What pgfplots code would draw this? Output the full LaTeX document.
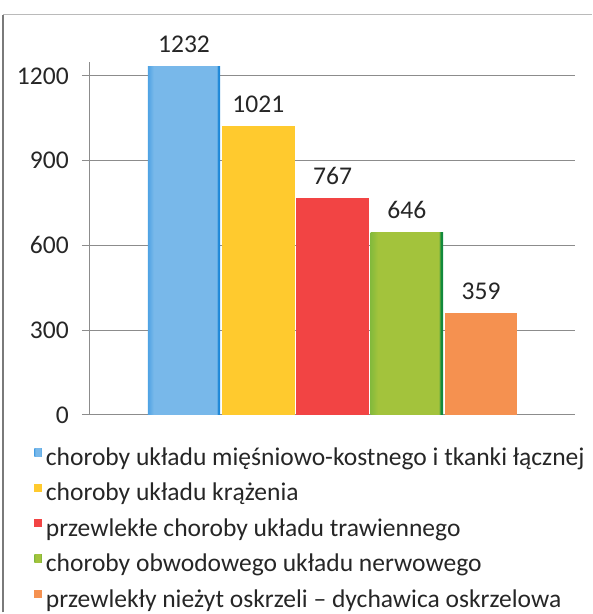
\documentclass[border=0pt]{standalone}
\usepackage{fontspec}
\setmainfont{Carlito}
\usepackage{pgfplots}
\pgfplotsset{compat=1.18}

\definecolor{txt}{HTML}{262626}
\definecolor{gridc}{HTML}{8C8C8C}
\definecolor{frame}{HTML}{7A7A7A}
\definecolor{cblueA}{HTML}{4EA2E4}
\definecolor{cblueB}{HTML}{78B8EA}
\definecolor{cblueC}{HTML}{1E88D8}
\definecolor{cyell}{HTML}{FFCA2E}
\definecolor{cred}{HTML}{F24444}
\definecolor{cgrnA}{HTML}{84BA3C}
\definecolor{cgrnB}{HTML}{A3C33C}
\definecolor{cgrnC}{HTML}{128A3C}
\definecolor{corng}{HTML}{F59150}

% the bar is fitted to the middle 25bp..75bp of the shading
\pgfdeclarehorizontalshading{blueshade}{100bp}{color(0bp)=(cblueA); color(25bp)=(cblueA); color(29bp)=(cblueB); color(72.5bp)=(cblueB); color(73.5bp)=(cblueC); color(100bp)=(cblueC)}
\pgfdeclarehorizontalshading{greenshade}{100bp}{color(0bp)=(cgrnA); color(25bp)=(cgrnA); color(30bp)=(cgrnB); color(72bp)=(cgrnB); color(73.5bp)=(cgrnC); color(100bp)=(cgrnC)}

\newcommand{\fs}{\fontsize{12.8pt}{15pt}\selectfont}

\begin{document}
\begin{tikzpicture}
\begin{axis}[
    name=ax,
    width=243.5pt, height=177pt,
    scale only axis,
    xmin=-1.27, xmax=5.27,
    ymin=0, ymax=1250,
    axis x line=none,
    axis y line*=left,
    y axis line style={draw=gridc, line width=0.5pt, -},
    ytick={0,300,600,900,1200},
    xtick=\empty,
    tick align=outside,
    major tick length=4pt,
    y tick style={draw=gridc, line width=0.5pt},
    ymajorgrids=true,
    major grid style={draw=gridc, line width=0.5pt},
    /pgf/number format/assume math mode=true,
    /pgf/number format/1000 sep={},
    yticklabel style={font=\fs, text=txt, xshift=-3pt},
    ybar, bar width=0.975, bar shift=0pt,
    clip=false,
    nodes near coords,
    every node near coord/.append style={font=\fs, text=txt, anchor=south, yshift=3.5pt},
    legend cell align=left,
    legend style={draw=none, fill=none, anchor=north west,
        at={(axis description cs:-0.115,-0.081)},
        font=\fs, text=txt, row sep=3.35pt, inner sep=0pt,
        /tikz/every even column/.append style={column sep=2pt}},
    legend image code/.code={\path[#1, draw=none] (0pt,1pt) rectangle (3.8pt,4.8pt);},
]
\addplot[draw=none, shading=blueshade] coordinates {(0,1232)};
\addplot[draw=none, fill=cyell] coordinates {(1,1021)};
\addplot[draw=none, fill=cred] coordinates {(2,767)};
\addplot[draw=none, shading=greenshade] coordinates {(3,646)};
\addplot[draw=none, fill=corng] coordinates {(4,359)};
\legend{choroby układu mięśniowo-kostnego i tkanki łącznej,
        choroby układu krążenia,
        przewlekłe choroby układu trawiennego,
        choroby obwodowego układu nerwowego,
        przewlekły nieżyt oskrzeli – dychawica oskrzelowa}
\end{axis}
\draw[frame, line width=1pt] ([xshift=-43.5pt,yshift=-99pt]ax.south west) -- ([xshift=-43.5pt,yshift=23.5pt]ax.north west);
\draw[gridc!60, line width=0.5pt] ([xshift=-43.5pt,yshift=23.5pt]ax.north west) -- ([xshift=8.5pt,yshift=23.5pt]ax.north east);
\path ([xshift=-45pt,yshift=-99pt]ax.south west) rectangle ([xshift=8.5pt,yshift=31pt]ax.north east);
\end{tikzpicture}
\end{document}
